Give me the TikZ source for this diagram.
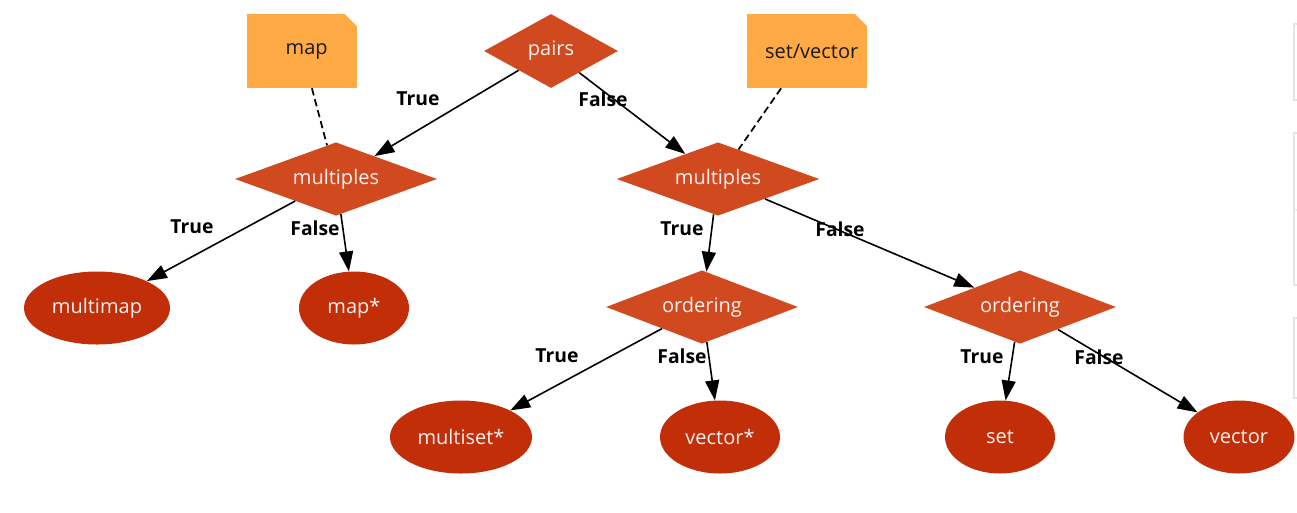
\documentclass[tikz,border=0pt]{standalone}
\usepackage{fontspec}
\setmainfont{Open Sans}
\usetikzlibrary{shapes.geometric,arrows.meta}
\definecolor{dia}{HTML}{D1491E}
\definecolor{leaf}{HTML}{C12E08}
\definecolor{notec}{HTML}{FFAA44}
\definecolor{edgec}{HTML}{000000}
\tikzset{
  decision/.style={diamond, fill=dia, text=white!95!black, inner sep=0pt, font=\fontsize{15}{17}\selectfont},
  leafnode/.style={ellipse, fill=leaf, text=white!95!black, inner sep=0pt, minimum height=54.75pt, font=\fontsize{15}{17}\selectfont},
  notebox/.style={rectangle, fill=notec, text=black!90, inner sep=0pt, minimum height=55.5pt, font=\fontsize{15}{17}\selectfont,
    path picture={\fill[white] (path picture bounding box.north east) -- ++(-9pt,0) -- ++(9pt,-9pt) -- cycle;}},
  conn/.style={draw=edgec, line width=1.2pt, -{Triangle[length=15pt,width=10.5pt]}},
  dconn/.style={draw=edgec, line width=1.3pt, dash pattern=on 5.5pt off 3pt},
  lbl/.style={font=\bfseries\fontsize{14.5}{17}\selectfont, text=black, inner sep=0pt},
  shadowbox/.style={draw=black!10, line width=1.5pt}
}
\begin{document}
\begin{tikzpicture}[x=0.75pt,y=-0.75pt]
\useasboundingbox (0,0) rectangle (1297,512);
% partial boxes at the right edge
\draw[shadowbox] (1294,24) rectangle (1320,100);
\draw[shadowbox] (1294,133) rectangle (1320,285);
\draw[draw=black!8, line width=0.8pt] (1294,210) -- (1297,210);
\draw[shadowbox] (1294,318) rectangle (1320,398);

% notes
\node[notebox, minimum width=82.5pt] (mapnote) at (302,51) {\hspace*{7pt}map};
\node[notebox, minimum width=90pt] (svnote) at (807,51) {\hspace*{7pt}set/vector};

% decisions
\node[decision, shape aspect=1.81, minimum width=100.5pt, minimum height=55.5pt] (pairs) at (551,51) {pairs};
\node[decision, shape aspect=2.77, minimum width=151.5pt, minimum height=55pt] (mulL) at (336,179) {multiples};
\node[decision, shape aspect=2.77, minimum width=152pt, minimum height=55pt] (mulR) at (718,179) {multiples};
\node[decision, shape aspect=2.63, minimum width=144pt, minimum height=55pt] (ordL) at (702,307) {ordering};
\node[decision, shape aspect=2.63, minimum width=144pt, minimum height=55pt] (ordR) at (1020,307) {ordering};

% leaves
\node[leafnode, minimum width=109.5pt] (multimap) at (97,308) {multimap};
\node[leafnode, minimum width=82.5pt] (mapstar) at (354,308) {map*};
\node[leafnode, minimum width=106.5pt] (multiset) at (461,437) {multiset*};
\node[leafnode, minimum width=90pt] (vecstar) at (720,437) {vector*};
\node[leafnode, minimum width=82.5pt] (set) at (1000,437) {set};
\node[leafnode, minimum width=83.25pt] (vector) at (1239,437) {vector};

% dashed note links
\draw[dconn] (mapnote) -- (mulL);
\draw[dconn] (svnote) -- (mulR);

% edges
\draw[conn] (pairs) -- (mulL);
\draw[conn] (pairs) -- (mulR);
\draw[conn] (mulL) -- (multimap);
\draw[conn] (mulL) -- (mapstar);
\draw[conn] (mulR) -- (ordL);
\draw[conn] (mulR) -- (ordR);
\draw[conn] (ordL) -- (multiset);
\draw[conn] (ordL) -- (vecstar);
\draw[conn] (ordR) -- (set);
\draw[conn] (ordR) -- (vector);

% edge labels
\node[lbl] (l1) at (418,99) {True};
\node[lbl] (l2) at (603,99) {False};
\node[lbl] (l3) at (192,227) {True};
\node[lbl] (l4) at (315,228) {False};
\node[lbl] (l5) at (682,229) {True};
\node[lbl] (l6) at (840,229) {False};
\node[lbl] (l7) at (557,356) {True};
\node[lbl] (l8) at (682,356) {False};
\node[lbl] (l9) at (982,357) {True};
\node[lbl] (l10) at (1099,357) {False};
\end{tikzpicture}
\end{document}
